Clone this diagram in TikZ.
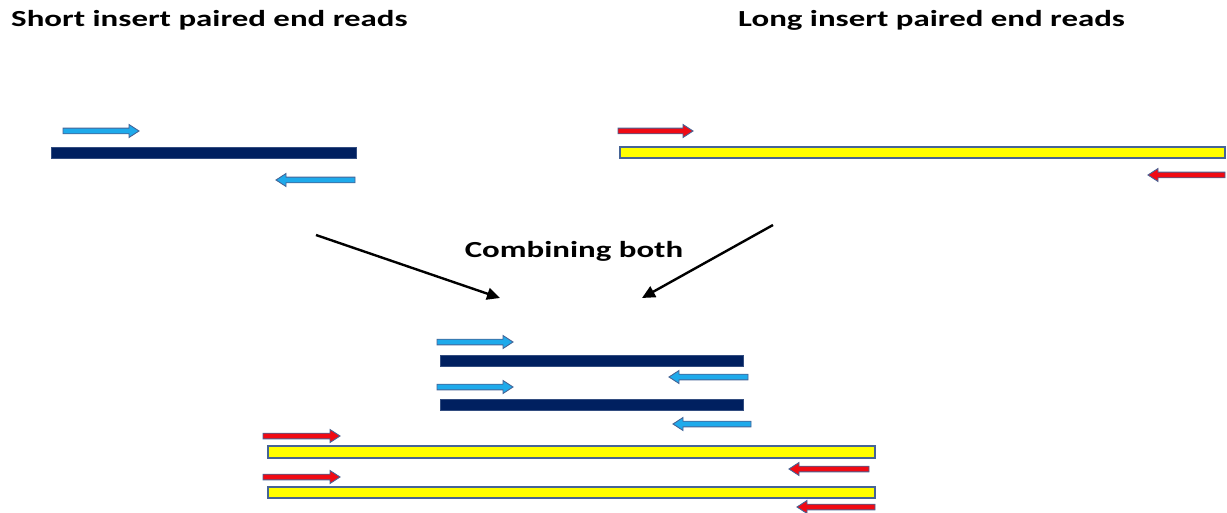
\documentclass[tikz,border=0pt]{standalone}
\usepackage{graphicx}
\usepackage{fontspec}
\setmainfont{Carlito}
\usetikzlibrary{arrows.meta}

\definecolor{readblue}{RGB}{30,170,235}
\definecolor{readred}{RGB}{240,10,20}
\definecolor{edgeblue}{RGB}{70,100,150}
\definecolor{navy}{RGB}{0,32,96}
\definecolor{insertyellow}{RGB}{255,255,0}

\tikzset{
  title/.style={font=\bfseries\fontsize{23}{27}\selectfont, inner sep=0pt},
  shortbar/.style={fill=navy, draw=navy!80, line width=0.6pt},
  longbar/.style={fill=insertyellow, draw=edgeblue, line width=1.2pt},
  shortread/.style={fill=readblue, draw=edgeblue, line width=0.9pt, line join=miter},
  longread/.style={fill=readred, draw=edgeblue, line width=0.9pt, line join=miter},
  mergearrow/.style={line width=2.4pt, -{Triangle[length=13pt,width=12pt]}}
}

% wide set heading text
\newcommand{\widetext}[1]{\scalebox{1.43}[1]{#1}}

% block arrow pointing right: tail x, tip x, centre y, style
\newcommand{\readright}[4]{%
  \draw[#4] (#1,#3-2.8) -- (#2-10,#3-2.8) -- (#2-10,#3-6.5) -- (#2,#3)
    -- (#2-10,#3+6.5) -- (#2-10,#3+2.8) -- (#1,#3+2.8) -- cycle;}
% block arrow pointing left: tip x, tail x, centre y, style
\newcommand{\readleft}[4]{%
  \draw[#4] (#2,#3-2.8) -- (#1+10,#3-2.8) -- (#1+10,#3-6.5) -- (#1,#3)
    -- (#1+10,#3+6.5) -- (#1+10,#3+2.8) -- (#2,#3+2.8) -- cycle;}
% insert bar: left x, right x, top y, bottom y, style
\newcommand{\insertbar}[5]{\draw[#5] (#1,#3) rectangle (#2,#4);}

\begin{document}
\begin{tikzpicture}[x=1pt, y=-1pt]
\useasboundingbox (0,0) rectangle (1227,513);

% headings
\node[title, anchor=base west] (shorttitle) at (11,27) {\widetext{Short insert paired end reads}};
\node[title, anchor=base west] (longtitle) at (738,27) {\widetext{Long insert paired end reads}};
\node[title, anchor=base] (combine) at (574,258) {\widetext{Combining both}};

% short insert pair
\readright{63}{139}{131}{shortread}
\insertbar{51}{356}{147}{158}{shortbar}
\readleft{276}{355}{180}{shortread}

% long insert pair
\readright{618}{693}{131}{longread}
\insertbar{620}{1225}{147}{158}{longbar}
\readleft{1148}{1225}{175}{longread}

% merging arrows
\coordinate (lstart) at (316,235);
\coordinate (lend) at (500,298);
\coordinate (rstart) at (773,225);
\coordinate (rend) at (642,298);
\draw[mergearrow] (lstart) -- (lend);
\draw[mergearrow] (rstart) -- (rend);

% combined library: two short insert pairs
\readright{437}{513}{342}{shortread}
\insertbar{440}{743}{355}{366}{shortbar}
\readleft{669}{748}{377}{shortread}
\readright{437}{513}{387}{shortread}
\insertbar{440}{743}{399}{410}{shortbar}
\readleft{673}{751}{424}{shortread}

% combined library: two long insert pairs
\readright{263}{340}{436}{longread}
\insertbar{268}{875}{446}{458}{longbar}
\readleft{789}{869}{469}{longread}
\readright{263}{340}{477}{longread}
\insertbar{268}{875}{487}{498}{longbar}
\readleft{797}{875}{507}{longread}
\end{tikzpicture}
\end{document}
